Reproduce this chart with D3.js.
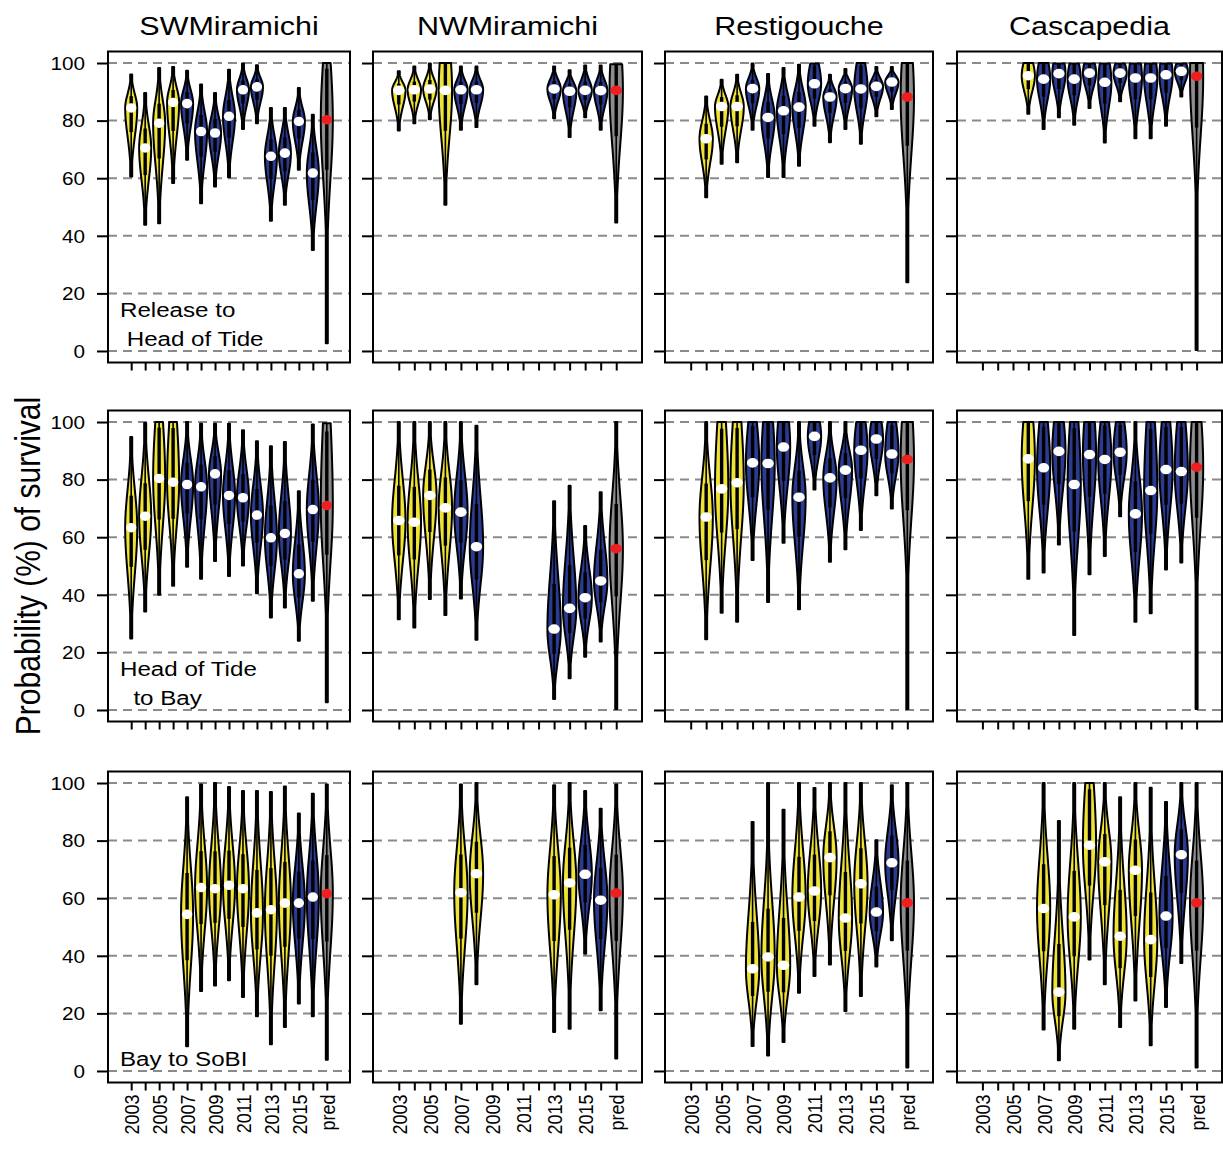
<!DOCTYPE html>
<html>
<head>
<meta charset="utf-8">
<script src="https://cdn.jsdelivr.net/npm/d3@7"></script>
<style>
    body { margin: 0; background: #fff; }
    svg text { font-family: "Liberation Sans", Arial, Helvetica, sans-serif; white-space: pre; }
</style>
</head>
<body>
<svg id="chart" width="1223" height="1152"></svg>
<script>
// categories on the x axis (release years + model prediction)
const years = ["2003", "2004", "2005", "2006", "2007", "2008", "2009", "2010",
               "2011", "2012", "2013", "2014", "2015", "2016", "pred"];
const shownYears = ["2003", "2005", "2007", "2009", "2011", "2013", "2015", "pred"];
const rivers = ["SWMiramichi", "NWMiramichi", "Restigouche", "Cascapedia"];
const stageLabels = [["Release to", " Head of Tide"], ["Head of Tide", "  to Bay"], ["Bay to SoBI"]];
const yTicks = [0, 20, 40, 60, 80, 100];
// last release year drawn in yellow, per stage (row)
const yellowUntil = [2006, 2006, 2014];

// Release to Head of Tide: median, lower tip, upper tip (one row per river)
const relMed = [
    [84.4, 70.5, 79.1, 86.3, 85.9, 76.2, 75.7, 81.5, 90.7, 91.7, 67.6, 68.7, 79.7, 61.8, 80.3],
    [90.5, 90.7, 91.0, 90.5, 90.7, 90.7, null, null, null, null, 91.0, 90.2, 90.5, 90.4, 90.5],
    [null, 73.7, 84.9, 84.9, 91.1, 81.1, 83.4, 84.7, 92.8, 88.2, 91.1, 91.0, 91.9, 93.4, 88.2],
    [null, null, null, 95.6, 94.4, 96.3, 94.4, 96.5, 93.3, 96.5, 94.8, 94.8, 95.9, 97.1, 95.4]
];
const relLo = [
    [60.6, 43.8, 44.4, 58.3, 66.4, 51.3, 57.1, 60.3, 77.1, 79.1, 45.2, 50.8, 62.9, 35.1, 2.7],
    [76.6, 79.1, 80.5, 50.8, 76.8, 77.8, null, null, null, null, 80.8, 74.3, 81.2, 76.8, 44.6],
    [null, 53.4, 65.0, 65.5, 76.8, 60.4, 60.4, 64.3, 78.2, 72.5, 77.1, 72.0, 81.5, 84.0, 23.9],
    [null, null, null, 82.4, 77.1, 81.2, 78.6, 84.4, 72.4, 86.7, 73.9, 73.9, 78.2, 88.4, 0.3]
];
const relHi = [
    [96.0, 89.6, 98.3, 98.6, 97.3, 92.5, 89.6, 97.7, 99.8, 99.2, 84.4, 84.4, 91.3, 82.0, 100],
    [97.1, 98.8, 99.8, 100, 98.8, 98.8, null, null, null, null, 98.8, 97.5, 99.1, 99.1, 99.6],
    [null, 88.4, 94.2, 95.9, 99.8, 96.2, 98.3, 99.4, 99.8, 95.9, 97.9, 100, 98.6, 98.6, 100],
    [null, null, null, 100, 100, 99.8, 99.8, 99.8, 99.8, 99.8, 99.8, 99.8, 99.8, 99.8, 100]
];

// Head of Tide to Bay
const tideMed = [
    [63.3, 67.3, 80.4, 79.1, 78.3, 77.5, 82.0, 74.5, 73.7, 67.7, 59.8, 61.3, 47.3, 69.6, 71.0],
    [65.8, 65.2, 74.5, 70.2, 68.7, 56.7, null, null, null, null, 28.1, 35.3, 39.0, 44.8, 56.0],
    [null, 67.0, 76.8, 78.9, 85.8, 85.6, 91.3, 73.9, 95.0, 80.6, 83.3, 90.2, 94.1, 88.9, 87.0],
    [null, null, null, 87.2, 84.1, 89.8, 78.3, 88.7, 87.0, 89.5, 68.1, 76.2, 83.5, 82.8, 84.3]
];
const tideLo = [
    [24.8, 34.2, 40.0, 43.1, 49.7, 45.6, 51.7, 46.5, 50.2, 40.5, 32.1, 35.6, 24.0, 37.9, 2.7],
    [31.5, 28.6, 38.5, 33.0, 38.7, 24.4, null, null, null, null, 3.8, 11.0, 18.5, 23.8, 0.3],
    [null, 24.6, 33.8, 30.6, 52.1, 37.5, 58.1, 35.0, 76.6, 51.5, 55.8, 62.5, 74.6, 70.0, 0.3],
    [null, null, null, 45.6, 47.7, 57.5, 26.0, 47.1, 53.5, 67.3, 30.6, 33.6, 48.8, 51.2, 0.3]
];
const tideHi = [
    [94.8, 99.7, 100, 100, 100, 99.4, 99.4, 99.4, 97.1, 93.3, 91.6, 93.1, 76.0, 99.1, 99.6],
    [100, 100, 100, 100, 100, 98.7, null, null, null, null, 72.5, 77.9, 63.9, 75.6, 100],
    [null, 100, 100, 100, 100, 100, 100, 100, 100, 100, 100, 100, 100, 100, 100],
    [null, null, null, 100, 100, 100, 100, 100, 100, 100, 100, 100, 100, 100, 100]
];

// Bay to SoBI
const bayMed = [
    [null, null, null, null, 54.4, 63.7, 63.3, 64.5, 63.3, 54.9, 56.0, 58.3, 58.3, 60.4, 61.6],
    [null, null, null, null, 61.9, 68.5, null, null, null, null, 61.2, 65.3, 68.3, 59.3, 61.8],
    [null, null, null, null, 35.5, 39.6, 36.7, 60.4, 62.5, 74.1, 53.1, 65.0, 55.2, 72.3, 58.4],
    [null, null, null, null, 56.4, 27.4, 53.5, 78.4, 72.6, 46.8, 69.7, 45.6, 53.8, 75.1, 58.4]
];
const bayLo = [
    [null, null, null, null, 8.6, 27.8, 29.7, 31.5, 25.7, 19.0, 9.3, 15.3, 23.4, 19.0, 3.9],
    [null, null, null, null, 16.4, 30.1, null, null, null, null, 13.5, 14.7, 40.7, 21.1, 4.3],
    [null, null, null, null, 8.7, 5.4, 10.1, 27.2, 33.0, 37.0, 20.8, 26.0, 36.3, 45.4, 1.2],
    [null, null, null, null, 14.4, 3.7, 14.7, 38.7, 30.1, 15.3, 24.5, 8.9, 22.2, 37.5, 1.2]
];
const bayHi = [
    [null, null, null, null, 95.1, 99.5, 100, 98.6, 97.2, 97.2, 96.9, 98.8, 89.4, 96.3, 99.5],
    [null, null, null, null, 99.5, 100, null, null, null, null, 99.2, 100, 97.2, 91.1, 99.5],
    [null, null, null, null, 86.5, 100, 90.7, 100, 98.3, 100, 100, 100, 80.1, 99.2, 100],
    [null, null, null, null, 100, 86.8, 100, 100, 100, 95.1, 100, 98.4, 93.4, 100, 100]
];

const stages = [
    { med: relMed, lo: relLo, hi: relHi },
    { med: tideMed, lo: tideLo, hi: tideHi },
    { med: bayMed, lo: bayLo, hi: bayHi }
];

// layout (the figure is slightly stretched horizontally, text follows that)
const SX = 1.15;
const colLeft = [108, 373, 665, 957], colWidth = [242, 269, 268, 265];
const rowTop = [51.5, 410.5, 771.5], rowHeight = 311;
const colors = { yellow: "#efe336", blue: "#2b3b92", grey: "#8c8c8c" };

const svg = d3.select("#chart");
svg.append("rect").attr("width", 1223).attr("height", 1152).attr("fill", "#fff");

// width profile of a violin: gaussian-like around the median, long tails get a slimmer body
function profile(lo, med, hi) {
    var kLo = 1.7 + Math.max(0, med - lo - 45) * 0.03;
    var sLo = Math.max(med - lo, 0.5) / kLo;
    var trunc = hi >= 99.5 && (hi - med) < 0.6 * (med - lo);
    var kHi = 1.7 + Math.max(0, hi - med - 45) * 0.03;
    var sHi = trunc ? Math.max(sLo, 1.5 * (hi - med)) : Math.max(hi - med, 0.5) / kHi;
    var f = function(v) {
        var d = v - med, s = d < 0 ? sLo : sHi;
        return Math.exp(-Math.pow(Math.abs(d) / s, 2));
    };
    f.q1 = med - 0.6 * sLo;
    f.q3 = Math.min(hi, med + 0.6 * sHi);
    return f;
}

function drawPanel(r, c) {
    var left = colLeft[c], width = colWidth[c], top = rowTop[r];
    var st = stages[r];
    var x = d3.scalePoint().domain(years).range([left, left + width]).padding(1.66);
    var y = d3.scaleLinear().domain([-4, 104]).range([top + rowHeight, top]);
    var step = x.step();
    var W = step * 0.43;
    var g = svg.append("g").attr("class", "panel");

    // dashed grid
    g.selectAll(".grid")
        .data(yTicks)
        .enter().append("line")
        .attr("x1", left).attr("x2", left + width)
        .attr("y1", function(d) { return y(d); })
        .attr("y2", function(d) { return y(d); })
        .attr("stroke", "#8a8a8a")
        .attr("stroke-width", 2)
        .attr("stroke-dasharray", "9,6");

    var items = years.map(function(yr, i) {
        return { year: yr, i: i, med: st.med[c][i], lo: st.lo[c][i], hi: st.hi[c][i] };
    }).filter(function(d) { return d.med !== null; });

    items.forEach(function(d) {
        var cx = x(d.year);
        var prof = profile(d.lo, d.med, d.hi);
        var fill = d.year === "pred" ? colors.grey
            : (+d.year <= yellowUntil[r] ? colors.yellow : colors.blue);
        var vals = d3.range(0, 101).map(function(k) { return d.lo + (d.hi - d.lo) * k / 100; });
        var hw = function(v) { return Math.max(W * prof(v), 1.0); };
        var area = d3.area()
            .y(function(v) { return y(v); })
            .x0(function(v) { return cx - hw(v); })
            .x1(function(v) { return cx + hw(v); });

        g.append("path")
            .attr("d", area(vals))
            .attr("fill", fill)
            .attr("stroke", "#000")
            .attr("stroke-width", 2)
            .attr("stroke-linejoin", "round");
        g.append("line")
            .attr("x1", cx).attr("x2", cx)
            .attr("y1", y(d.lo)).attr("y2", y(d.hi))
            .attr("stroke", "#000").attr("stroke-width", 1.6);
        g.append("rect")
            .attr("x", cx - 1.7).attr("width", 3.4)
            .attr("y", y(prof.q3)).attr("height", y(prof.q1) - y(prof.q3))
            .attr("fill", "#000");
        g.append("ellipse")
            .attr("cx", cx).attr("cy", y(d.med))
            .attr("rx", step * 0.37).attr("ry", 4.8)
            .attr("fill", d.year === "pred" ? "#f01e1e" : "#fff");
    });

    // frame
    g.append("rect")
        .attr("x", left).attr("y", top)
        .attr("width", width).attr("height", rowHeight)
        .attr("fill", "none").attr("stroke", "#000").attr("stroke-width", 2);

    // y axis
    var ya = g.append("g")
        .attr("transform", "translate(" + left + ",0)")
        .call(d3.axisLeft(y).tickValues(yTicks).tickSize(11).tickFormat(c === 0 ? d3.format("d") : ""));
    ya.select(".domain").remove();
    ya.selectAll("line").attr("stroke-width", 2);
    ya.selectAll("text")
        .attr("x", null).attr("dy", "0.35em")
        .attr("transform", "translate(-23,0) scale(" + SX + ",1)")
        .attr("font-size", 18).attr("fill", "#000");
    ya.attr("font-family", null);

    // x axis
    var xa = g.append("g")
        .attr("transform", "translate(0," + (top + rowHeight) + ")")
        .call(d3.axisBottom(x).tickSize(8).tickFormat(function(d) {
            return r === 2 && shownYears.indexOf(d) >= 0 ? d : "";
        }));
    xa.select(".domain").remove();
    xa.selectAll("line").attr("stroke-width", 2);
    xa.selectAll("text")
        .attr("y", null).attr("x", null).attr("dy", "0.36em")
        .attr("transform", "translate(0,12) scale(" + SX + ",1) rotate(-90)")
        .style("text-anchor", "end")
        .attr("font-size", 18).attr("fill", "#000");
    xa.attr("font-family", null);

    // stage label in the first column
    if (c === 0) {
        var lines = stageLabels[r];
        lines.forEach(function(txt, k) {
            g.append("text")
                .attr("transform", "translate(120," + (y(0) - 5 - 29 * (lines.length - 1 - k)) + ") scale(" + SX + ",1)")
                .attr("font-size", 21)
                .text(txt);
        });
    }
    // river title on top row
    if (r === 0) {
        g.append("text")
            .attr("transform", "translate(" + (left + width / 2) + ",35) scale(" + SX + ",1)")
            .attr("text-anchor", "middle")
            .attr("font-size", 26.5)
            .text(rivers[c]);
    }
}

stages.forEach(function(st, r) {
    rivers.forEach(function(rv, c) { drawPanel(r, c); });
});

svg.append("text")
    .attr("transform", "translate(40,566) scale(" + SX + ",1) rotate(-90)")
    .attr("text-anchor", "middle")
    .attr("font-size", 30)
    .text("Probability (%) of survival");
</script>
</body>
</html>
